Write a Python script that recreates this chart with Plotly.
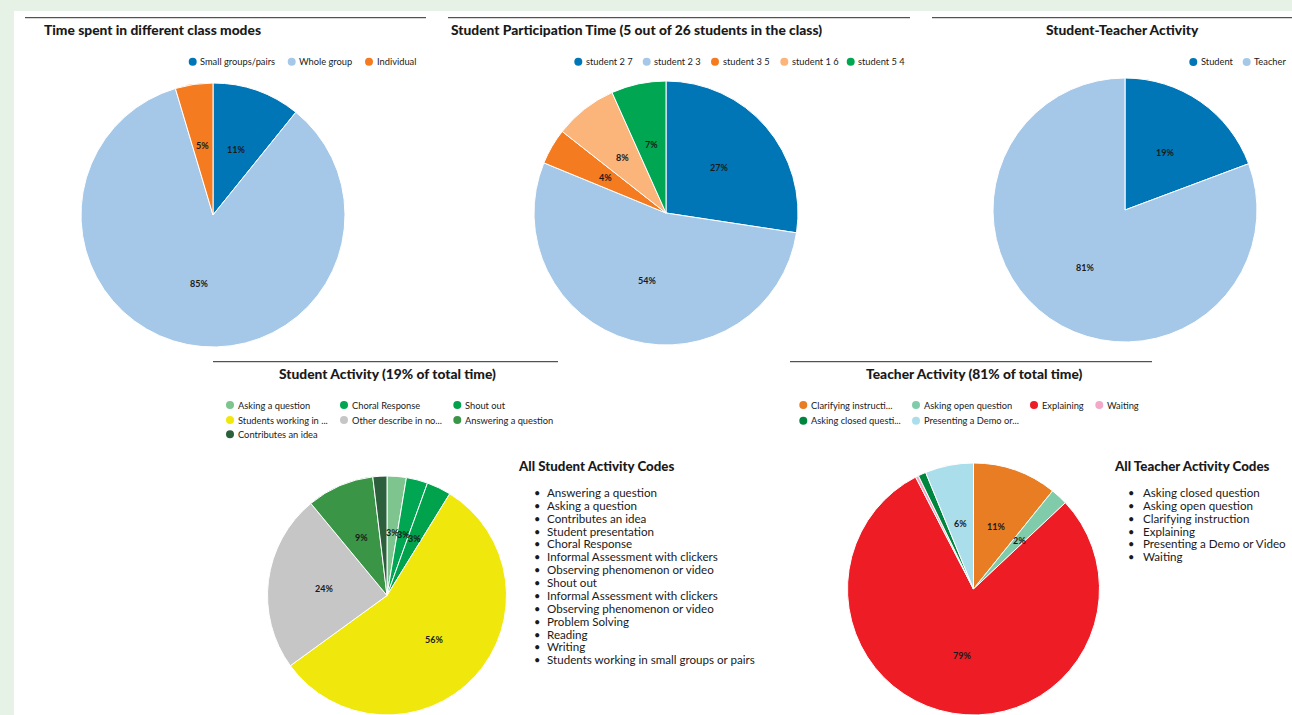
import math
import plotly.graph_objects as go

W, H = 1292, 715

# ---------------- data ----------------
mode_labels = ["Small groups/pairs", "Whole group", "Individual"]
mode_values = [10.8, 84.6, 4.6]
mode_colors = ["#0076b6", "#a6c8e8", "#f47b20"]

part_labels = ["student 2 7", "student 2 3", "student 3 5", "student 1 6", "student 5 4"]
part_values = [27.4, 53.8, 4.4, 7.7, 6.7]
part_colors = ["#0076b6", "#a6c8e8", "#f47b20", "#fbb47a", "#00a651"]

st_labels = ["Student", "Teacher"]
st_values = [19.3, 80.7]
st_colors = ["#0076b6", "#a6c8e8"]

sa_labels = ["Asking a question", "Choral Response", "Shout out",
             "Students working in small groups or pairs", "Other describe in notes",
             "Answering a question", "Contributes an idea"]
sa_values = [2.6, 2.9, 3.3, 56.2, 24.0, 9.1, 1.9]
sa_colors = ["#7dc48f", "#00a651", "#00a24c", "#f0e80c", "#c6c6c6", "#3a9646", "#2c5f3c"]

ta_labels = ["Clarifying instruction", "Asking open question", "Explaining", "Waiting",
             "Asking closed question", "Presenting a Demo or Video"]
ta_values = [10.8, 2.2, 79.4, 0.4, 1.0, 6.2]
ta_colors = ["#e87d24", "#80ccaa", "#ee1c25", "#f2a9c8", "#00853e", "#abdeeb"]

student_codes = ["Answering a question", "Asking a question", "Contributes an idea",
                 "Student presentation", "Choral Response", "Informal Assessment with clickers",
                 "Observing phenomenon or video", "Shout out", "Informal Assessment with clickers",
                 "Observing phenomenon or video", "Problem Solving", "Reading", "Writing",
                 "Students working in small groups or pairs"]
teacher_codes = ["Asking closed question", "Asking open question", "Clarifying instruction",
                 "Explaining", "Presenting a Demo or Video", "Waiting"]

titles = ["Time spent in different class modes",
          "Student Participation Time (5 out of 26 students in the class)",
          "Student-Teacher Activity",
          "Student Activity (19% of total time)",
          "Teacher Activity (81% of total time)"]

# ---------------- styles / layout ----------------
FONT = "Lato"
BG = "#e7f2e6"
TXT = "#1a1a1a"


def px(x):
    return x / W


def py(y):
    return 1 - y / H


def clamp(v):
    return max(0.0, min(1.0, v))


def short(s):
    return s if len(s) <= 20 else s[:20] + "..."


fig = go.Figure()
shapes = [dict(type="rect", xref="paper", yref="paper", x0=px(14), x1=1, y0=0, y1=py(11),
               fillcolor="white", line=dict(width=0), layer="below")]
annotations = []


def add_pie(labels, values, colors, cx, cy, r):
    fig.add_trace(go.Pie(
        labels=labels, values=values, sort=False, direction="clockwise", rotation=0,
        marker=dict(colors=colors, line=dict(color="white", width=1)),
        textinfo="none",
        domain=dict(x=[clamp(px(cx - r)), clamp(px(cx + r))],
                    y=[clamp(py(cy + r)), clamp(py(cy - r))]),
        showlegend=False, hoverinfo="label+percent"))
    # percentage labels at half radius of each slice's mid angle
    tot = sum(values)
    cum = 0.0
    for v in values:
        mid = (cum + v / 2) / tot * 2 * math.pi
        cum += v
        if v / tot < 0.02:
            continue
        x = cx + 0.53 * r * math.sin(mid)
        y = cy - 0.53 * r * math.cos(mid)
        annotations.append(dict(text=f"{int(v / tot * 100 + 0.5)}%", x=px(x), y=py(y),
                                xref="paper", yref="paper", xanchor="center", yanchor="middle",
                                showarrow=False,
                                font=dict(family=FONT, size=9, color=TXT, weight="bold")))


add_pie(mode_labels, mode_values, mode_colors, 213, 215, 132)
add_pie(part_labels, part_values, part_colors, 666, 213, 132)
add_pie(st_labels, st_values, st_colors, 1125, 210, 132)
add_pie(sa_labels, sa_values, sa_colors, 387, 596, 120)
add_pie(ta_labels, ta_values, ta_colors, 973.5, 589.5, 126.5)

# title rules and titles
rules = [(25, 426, 17.7), (448, 910, 17.7), (932, 1292, 17.7), (213, 558, 361.7), (790, 1152, 361.7)]
for x0, x1, y in rules:
    shapes.append(dict(type="line", xref="paper", yref="paper", x0=px(x0), x1=px(x1),
                       y0=py(y), y1=py(y), line=dict(color="#2a2a2a", width=1)))

title_pos = [(42, 29, "left"), (449, 29, "left"), (1122, 29, "center"),
             (387, 373, "center"), (974, 373, "center")]
for t, (x, y, anc) in zip(titles, title_pos):
    annotations.append(dict(text=t, x=px(x), y=py(y), xref="paper", yref="paper",
                            xanchor=anc, yanchor="middle", showarrow=False,
                            font=dict(family=FONT, size=13.8, color=TXT, weight=900)))


# legends (circle + text)
def legend(labels, colors, xs, ys, per_row):
    for i, (lab, col) in enumerate(zip(labels, colors)):
        cx = xs[i % per_row]
        cy = ys[i // per_row]
        shapes.append(dict(type="circle", xref="paper", yref="paper",
                           x0=px(cx - 4), x1=px(cx + 4), y0=py(cy + 4), y1=py(cy - 4),
                           fillcolor=col, line=dict(width=0)))
        annotations.append(dict(text=short(lab), x=px(cx + 5.5), y=py(cy), xref="paper",
                                yref="paper", xanchor="left", yanchor="middle", showarrow=False,
                                font=dict(family=FONT, size=9.3, color=TXT)))


legend(mode_labels, mode_colors, [192.7, 291.7, 369], [61.7], 3)
legend(part_labels, part_colors, [578.3, 646.7, 715, 784.3, 850.7], [61.7], 5)
legend(st_labels, st_colors, [1193.3, 1246.7], [62], 2)
legend(sa_labels, sa_colors, [230, 344, 457.3], [405, 420, 434.3], 3)
legend(ta_labels, ta_colors, [803.3, 916, 1034, 1099.3], [405, 420.7], 4)


# code lists
def code_list(head, items, hx, bx, tx, y0, step):
    annotations.append(dict(text=head, x=px(hx), y=py(466), xref="paper", yref="paper",
                            xanchor="left", yanchor="middle", showarrow=False,
                            font=dict(family=FONT, size=13.3, color=TXT, weight=900)))
    for i, it in enumerate(items):
        y = y0 + i * step
        annotations.append(dict(text="•", x=px(bx), y=py(y), xref="paper", yref="paper",
                                xanchor="center", yanchor="middle", showarrow=False,
                                font=dict(family=FONT, size=11, color=TXT)))
        annotations.append(dict(text=it, x=px(tx), y=py(y), xref="paper", yref="paper",
                                xanchor="left", yanchor="middle", showarrow=False,
                                font=dict(family=FONT, size=11.6, color=TXT)))


code_list("All Student Activity Codes", student_codes, 516, 537, 545, 492.5, 12.87)
code_list("All Teacher Activity Codes", teacher_codes, 1112, 1131, 1141, 492.5, 12.87)

fig.update_layout(
    width=W, height=H, margin=dict(l=0, r=0, t=0, b=0),
    paper_bgcolor=BG, plot_bgcolor=BG,
    shapes=shapes, annotations=annotations,
    font=dict(family=FONT, color=TXT),
)

fig.write_html("out.html")
